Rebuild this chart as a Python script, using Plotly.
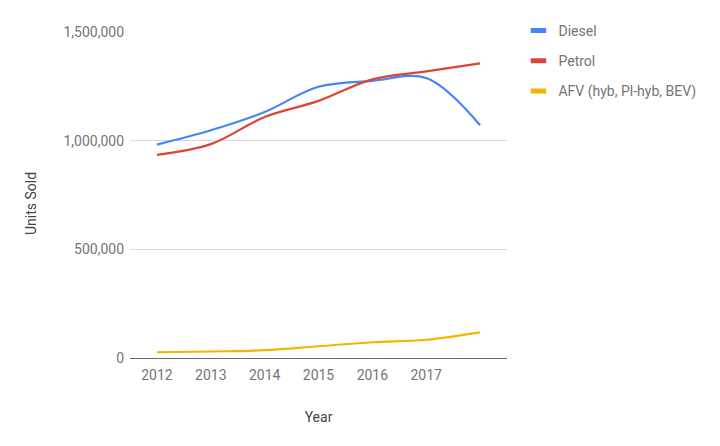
import plotly.graph_objects as go

years = [2012, 2013, 2014, 2015, 2016, 2017, 2018]
tick_years = [2012, 2013, 2014, 2015, 2016, 2017]
diesel = [982000, 1048000, 1132000, 1248000, 1275000, 1288000, 1071000]
petrol = [935000, 984000, 1109000, 1183000, 1282000, 1319000, 1356000]
afv = [26500, 30000, 36000, 54000, 72500, 84000, 118000]
y_ticks = [0, 500000, 1000000, 1500000]

series = [("Diesel", diesel, "#4285F4"),
          ("Petrol", petrol, "#DB4437"),
          ("AFV (hyb, Pl-hyb, BEV)", afv, "#F4B400")]

fig = go.Figure()
for name, vals, col in series:
    fig.add_trace(go.Scatter(x=years, y=vals, mode="lines", name=name,
                             line=dict(color=col, width=2.2, shape="spline", smoothing=1.0),
                             showlegend=False, hoverinfo="skip"))
for i, (name, vals, col) in enumerate(series):
    fig.add_trace(go.Scatter(x=[None], y=[None], mode="markers", name=name,
                             legendgroup=f"g{i}",
                             marker=dict(symbol="line-ew", size=11, color=col,
                                         line=dict(color=col, width=5)),
                             showlegend=True))

fig.add_annotation(text="Units Sold", textangle=-90, x=0, xref="paper", xanchor="center",
                   xshift=-99, y=0.4725, yref="paper", yanchor="middle", showarrow=False,
                   font=dict(family="Roboto", size=14, color="#444444"))

fig.update_layout(
    width=704, height=430,
    margin=dict(l=122, r=205, t=23.5, b=79.5),
    paper_bgcolor="white", plot_bgcolor="white",
    font=dict(family="Roboto", size=14, color="#757575"),
    legend=dict(x=0.7251, y=0.9837, xref="container", yref="container",
                xanchor="left", yanchor="top",
                font=dict(family="Roboto", size=14, color="#757575"),
                tracegroupgap=9, traceorder="grouped",
                bgcolor="rgba(0,0,0,0)"),
    xaxis=dict(range=[2011.5, 2018.5], tickmode="array", tickvals=tick_years,
               ticktext=[str(y) for y in tick_years], showgrid=False, zeroline=False,
               showline=False, ticks="", ticklabelstandoff=7,
               tickfont=dict(size=14, color="#757575"),
               title=dict(text="Year", font=dict(size=14, color="#444444"), standoff=30)),
    yaxis=dict(range=[0, 1500000], tickmode="array", tickvals=y_ticks,
               tickformat=",", showgrid=True, gridcolor="#d9d9d9", gridwidth=1,
               zeroline=True, zerolinecolor="#6a6a6a", zerolinewidth=1.3,
               ticks="", ticklabelstandoff=5,
               tickfont=dict(size=14, color="#757575")),
)

fig.write_html("out.html")
